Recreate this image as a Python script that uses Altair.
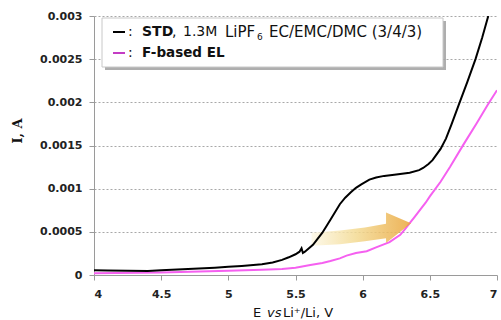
import altair as alt
import pandas as pd

# ---- data ----
STD_E = [4.00, 4.10, 4.25, 4.40, 4.50, 4.70, 4.90, 5.00, 5.10, 5.25, 5.33, 5.40, 5.45, 5.50,
         5.53, 5.545, 5.555, 5.57, 5.60, 5.63, 5.66, 5.70, 5.76, 5.83, 5.87, 5.91, 5.95, 5.99,
         6.05, 6.10, 6.16, 6.25, 6.35, 6.42, 6.45, 6.49, 6.52, 6.58, 6.62, 6.66, 6.72, 6.78,
         6.84, 6.89, 6.935]
STD_I = [0.000055, 0.000052, 0.000048, 0.000046, 0.000055, 0.000070, 0.000085, 0.000095,
         0.000105, 0.000125, 0.000145, 0.000175, 0.000205, 0.000240, 0.000270, 0.000310,
         0.000255, 0.000270, 0.000310, 0.000350, 0.000410, 0.000490, 0.000640, 0.000820,
         0.000895, 0.000955, 0.001010, 0.001050, 0.001105, 0.001130, 0.001148, 0.001165,
         0.001185, 0.001215, 0.001240, 0.001285, 0.001330, 0.001460, 0.001580, 0.001740,
         0.001990, 0.002240, 0.002500, 0.002750, 0.003000]

FEL_E = [4.00, 4.50, 5.00, 5.25, 5.40, 5.50, 5.61, 5.70, 5.76, 5.83, 5.88, 5.95, 6.03, 6.10,
         6.20, 6.28, 6.32, 6.35, 6.38, 6.43, 6.47, 6.50, 6.58, 6.65, 6.75, 6.85, 6.93, 7.00]
FEL_I = [0.000020, 0.000030, 0.000048, 0.000060, 0.000070, 0.000085, 0.000115, 0.000140,
         0.000162, 0.000193, 0.000225, 0.000255, 0.000275, 0.000320, 0.000380, 0.000465,
         0.000540, 0.000600, 0.000660, 0.000760, 0.000840, 0.000910, 0.001080, 0.001250,
         0.001510, 0.001760, 0.001970, 0.002140]

SERIES = ["STD", "F-based EL"]
X_TICKS = [4, 4.5, 5, 5.5, 6, 6.5, 7]
Y_TICKS = [0, 0.0005, 0.001, 0.0015, 0.002, 0.0025, 0.003]

# arrow annotation outline (in E / I units)
ARROW_E = [5.62, 5.831, 6.017, 6.174, 6.174, 6.36]
ARROW_TOP = [0.000490, 0.000515, 0.000550, 0.000595, 0.000725, 0.000600]
ARROW_BOT = [0.000340, 0.000355, 0.000390, 0.000425, 0.000370, 0.000600]

LEGEND_NAMES = ["STD", "F-based EL"]
LEGEND_DETAIL = [",", "1.3M", "LiPF", "6", "EC/EMC/DMC (3/4/3)"]
X_TITLE = ["E", "vs", "Li⁺/Li, V"]
Y_TITLE = "I, A"

BLACK = "#000000"
MAGENTA = "#f560f0"
LEG_MAGENTA = "#c43cc4"
FONT = "DejaVu Sans"

df = pd.concat([
    pd.DataFrame({"E": STD_E, "I": STD_I, "s": SERIES[0], "k": list(range(len(STD_E)))}),
    pd.DataFrame({"E": FEL_E, "I": FEL_I, "s": SERIES[1], "k": list(range(len(FEL_E)))}),
])
arrow_df = pd.DataFrame({"E": ARROW_E, "I": ARROW_TOP, "I2": ARROW_BOT})

x_enc = alt.X("E:Q", scale=alt.Scale(domain=[4, 7], nice=False, zero=False),
              axis=alt.Axis(values=X_TICKS, format="~g", title=None, grid=False,
                            tickSize=5, labelPadding=8))
y_enc = alt.Y("I:Q", scale=alt.Scale(domain=[0, 0.003], nice=False),
              axis=alt.Axis(values=Y_TICKS, format="~g", title=None, grid=True,
                            tickSize=5, labelPadding=7))
color_enc = alt.Color("s:N", scale=alt.Scale(domain=SERIES, range=[BLACK, MAGENTA]),
                      legend=None)

base = alt.Chart(df).mark_line(strokeWidth=2, clip=True).encode(
    x=x_enc, y=y_enc, color=color_enc, order="k:Q")
fel_line = base.transform_filter(alt.datum.s == SERIES[1])
std_line = base.transform_filter(alt.datum.s == SERIES[0])

arrow_grad = alt.Chart(arrow_df).mark_area(
    fill={"gradient": "linear", "x1": 0, "x2": 1, "y1": 0, "y2": 0,
          "stops": [{"offset": 0, "color": "#fdf8e6"},
                    {"offset": 0.45, "color": "#f3da92"},
                    {"offset": 1, "color": "#eaa53a"}]},
    fillOpacity=0.85,
).encode(x=x_enc, y=y_enc, y2="I2:Q")


def txt(s, x, y, size=14, weight="normal", style="normal", color="#111", angle=0,
        font=FONT):
    return alt.Chart(pd.DataFrame({"t": [s]})).mark_text(
        align="left" if angle == 0 else "center", baseline="middle", fontSize=size,
        fontWeight=weight, fontStyle=style, color=color, font=font, angle=angle,
    ).encode(text="t:N", x=alt.value(x), y=alt.value(y))


one = pd.DataFrame({"a": [0]})
shadow = alt.Chart(one).mark_rect(color="#9a9a9a", opacity=0.8).encode(
    x=alt.value(11), x2=alt.value(352), y=alt.value(5), y2=alt.value(54))
box = alt.Chart(one).mark_rect(fill="white", stroke="#c8c8c8", strokeWidth=1).encode(
    x=alt.value(8), x2=alt.value(349), y=alt.value(2), y2=alt.value(51))
sample1 = alt.Chart(one).mark_rule(color=BLACK, strokeWidth=2).encode(
    x=alt.value(19), x2=alt.value(31), y=alt.value(16))
sample2 = alt.Chart(one).mark_rule(color=LEG_MAGENTA, strokeWidth=2).encode(
    x=alt.value(19), x2=alt.value(31), y=alt.value(37))

legend = [
    shadow, box, sample1, sample2,
    txt(":", 34, 16), txt(":", 34, 37),
    txt(LEGEND_NAMES[0], 48, 16, weight="bold"),
    txt(LEGEND_DETAIL[0], 78, 16),
    txt(LEGEND_DETAIL[1], 89, 16, size=14),
    txt(LEGEND_DETAIL[2], 131, 16, size=15),
    txt(LEGEND_DETAIL[3], 163, 21, size=9),
    txt(LEGEND_DETAIL[4], 175, 16, size=15),
    txt(LEGEND_NAMES[1], 48, 37, weight="bold", size=13.5),
]

titles = [
    txt(X_TITLE[0], 159, 297, size=13),
    txt(X_TITLE[1], 173, 297, size=13, style="italic"),
    txt(X_TITLE[2], 189, 297, size=13),
    txt(Y_TITLE, -76, 115, size=13, weight="bold", angle=270, font="DejaVu Serif"),
]

chart = alt.layer(fel_line, arrow_grad, std_line, *legend, *titles).properties(
    width=403, height=259,
    autosize=alt.AutoSizeParams(type="none"),
    padding={"left": 94, "top": 16, "right": 4, "bottom": 45},
).configure_view(stroke=None).configure_axis(
    domainColor="#9a9a9a", tickColor="#9a9a9a", gridColor="#a8a8a8", gridDash=[2, 2],
    gridWidth=1, labelFont=FONT, labelFontSize=11, labelFontWeight="bold",
    labelColor="#222",
)

chart.save("out.html", embed_options={"renderer": "svg", "actions": False})
